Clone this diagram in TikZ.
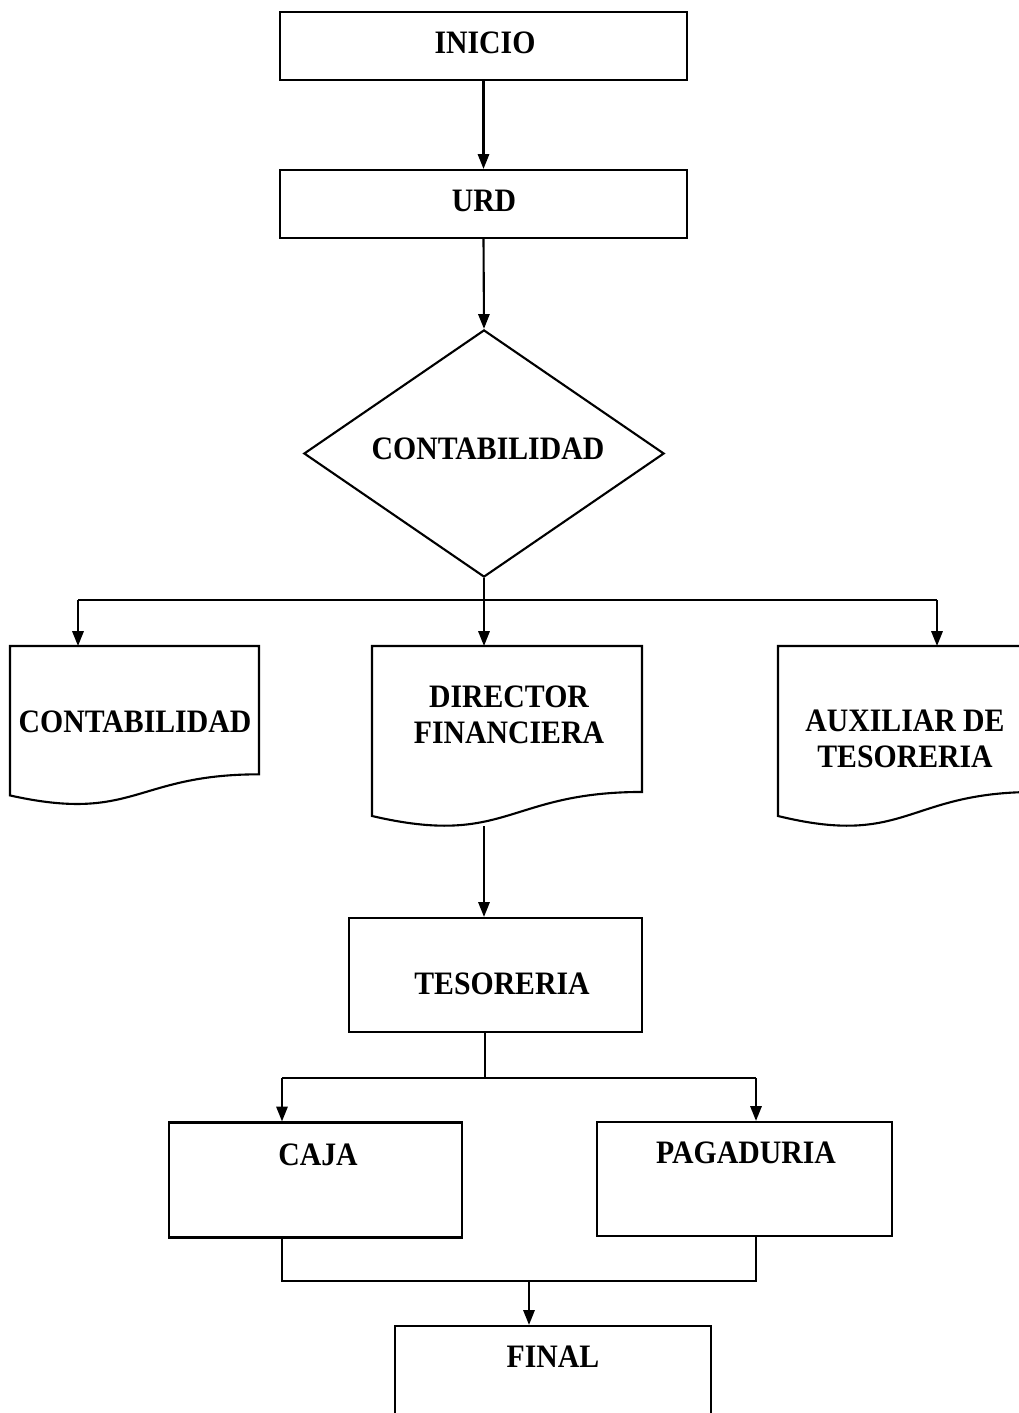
\documentclass[tikz,border=0pt]{standalone}
\usepackage{fontspec}
\setmainfont{Liberation Serif}[FakeStretch=0.91]
\usetikzlibrary{arrows.meta,shapes.geometric}

% document shape: name, left, top, width, height (pixel units)
\newcommand{\docbox}[5]{%
  \coordinate (#1) at (#2+#4/2,#3);
  \draw (#2,#3) -- (#2+#4,#3) -- (#2+#4,#3+0.802*#5)
    .. controls (#2+0.5*#4,#3+0.802*#5) and (#2+0.5*#4,#3+1.1075*#5) .. (#2,#3+0.934*#5) -- cycle;}

\begin{document}
\begin{tikzpicture}[x=0.01cm, y=-0.01cm, line width=0.6pt,
  every node/.style={font=\fontsize{9.3}{10.2}\selectfont\bfseries},
  bx/.style={draw, rectangle, inner sep=0pt},
  txt/.style={align=center, inner sep=0pt},
  arr/.style={-{Triangle[length=4.2pt,width=3.2pt]}}]
\useasboundingbox (0,0) rectangle (1019,1413);
\clip (0,0) rectangle (1019,1413);
% boxes
\node[bx, minimum width=4.07cm, minimum height=0.68cm] (inicio) at (483.5,46) {};
\node[txt] (inicioT) at (485,43) {INICIO};
\node[bx, minimum width=4.07cm, minimum height=0.68cm] (urd) at (483.5,204) {};
\node[txt] (urdT) at (484,201) {URD};
\node[draw, diamond, aspect=1.457, minimum width=3.6cm, minimum height=2.47cm, inner sep=0pt] (contab) at (484,453.5) {};
\node[txt] (contabT) at (488,449) {CONTABILIDAD};
\docbox{docL}{10}{646}{249}{160}
\docbox{docM}{372}{646}{270}{182}
\docbox{docR}{778}{646}{257}{182}
\node[txt] (docLT) at (135,722) {CONTABILIDAD};
\node[txt] (docMT) at (509,715) {DIRECTOR\\FINANCIERA};
\node[txt] (docRT) at (905,739) {AUXILIAR DE\\TESORERIA};
\node[bx, minimum width=2.93cm, minimum height=1.14cm] (teso) at (495.5,975) {};
\node[txt] (tesoT) at (502,984) {TESORERIA};
\node[bx, minimum width=2.93cm, minimum height=1.15cm] (caja) at (315.5,1180) {};
\node[txt] (cajaT) at (318,1155) {CAJA};
\node[bx, minimum width=2.95cm, minimum height=1.14cm] (pag) at (744.5,1179) {};
\node[txt] (pagT) at (746,1153) {PAGADURIA};
\node[bx, minimum width=3.16cm, minimum height=1.4cm] (final) at (553,1396) {};
\node[txt] (finalT) at (553,1357) {FINAL};
% connectors
\coordinate (busL) at (78,600);
\coordinate (busR) at (937,600);
\coordinate (dirB) at (484,826);
\coordinate (split) at (485,1078);
\coordinate (cajaA) at (282,1078);
\coordinate (pagA) at (756,1078);
\coordinate (join) at (529,1281);
\draw[arr] (inicio.south) -- (urd.north);
\draw[arr] (urd.south) -- (contab.north);
\draw[arr] (contab.south) -- (contab.south |- docM);
\draw (busL) -- (busR);
\draw[arr] (busL) -- (busL |- docL);
\draw[arr] (busR) -- (busR |- docR);
\draw[arr] (dirB) -- (dirB |- teso.north);
\draw (split |- teso.south) -- (split);
\draw (cajaA) -- (pagA);
\draw[arr] (cajaA) -- (cajaA |- caja.north);
\draw[arr] (pagA) -- (pagA |- pag.north);
\draw (cajaA |- caja.south) -- (cajaA |- join) -- (pagA |- join) -- (pagA |- pag.south);
\draw[arr] (join) -- (join |- final.north);
\end{tikzpicture}
\end{document}
